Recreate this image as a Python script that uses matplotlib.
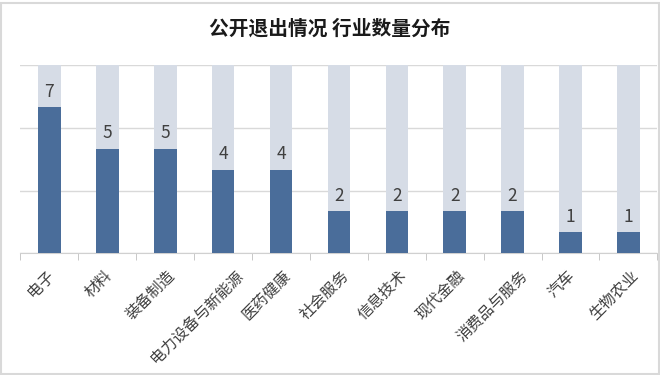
import numpy as np
import matplotlib.pyplot as plt
import matplotlib.transforms as mtransforms
from matplotlib.patches import Rectangle

plt.rcParams['font.family'] = ['Noto Sans CJK SC', 'DejaVu Sans']

categories = ['电子', '材料', '装备制造', '电力设备与新能源', '医药健康', '社会服务',
              '信息技术', '现代金融', '消费品与服务', '汽车', '生物农业']
counts = [7, 5, 5, 4, 4, 2, 2, 2, 2, 1, 1]
background = 9

dark = '#4a6d9a'
light = '#d6dce6'

fig = plt.figure(figsize=(6.6, 3.75), dpi=100)
ax = fig.add_axes([0.031, 0.325, 0.965, 0.501])

x = np.arange(len(categories))
ax.bar(x, [background] * len(x), width=0.39, color=light, zorder=2)
ax.bar(x, counts, width=0.39, color=dark, zorder=3)

for xi, c in zip(x, counts):
    ax.text(xi, c + 0.3, str(c), ha='center', va='bottom', fontsize=12.5,
            color='#404040', zorder=4)

ax.set_xlim(-0.5, len(x) - 0.5)
ax.set_ylim(0, 9)
ax.set_yticks([0, 3, 6, 9])
ax.set_yticklabels([])
ax.tick_params(axis='y', length=0)
ax.grid(axis='y', color='#d9d9d9', linewidth=1, zorder=0)

ax.set_xticks(x)
ax.set_xticklabels(categories, rotation=45, ha='right', va='top',
                   rotation_mode='anchor', fontsize=11.2, color='#404040')
ax.tick_params(axis='x', which='major', length=0, pad=10)
ax.set_xticks(np.arange(-0.5, len(x), 1), minor=True)
ax.tick_params(axis='x', which='minor', length=5, color='#bfbfbf')

# longer labels sit a little further right, like the original
for lab in ax.get_xticklabels():
    dx = (2.6 * len(lab.get_text()) - 9) / 100
    lab.set_transform(lab.get_transform() +
                      mtransforms.ScaledTranslation(dx, 0, fig.dpi_scale_trans))

for s in ['top', 'right', 'left']:
    ax.spines[s].set_visible(False)
ax.spines['bottom'].set_color('#d0d0d0')

fig.text(0.5, 0.923, '公开退出情况 行业数量分布', ha='center', va='center',
         fontsize=14.2, fontweight='bold', color='#1a1a1a')

fig.patches.append(Rectangle((0.002, 0.003), 0.996, 0.99, transform=fig.transFigure,
                             fill=False, edgecolor='#d9d9d9', linewidth=1.5))

fig.savefig('out.png', dpi=100)
